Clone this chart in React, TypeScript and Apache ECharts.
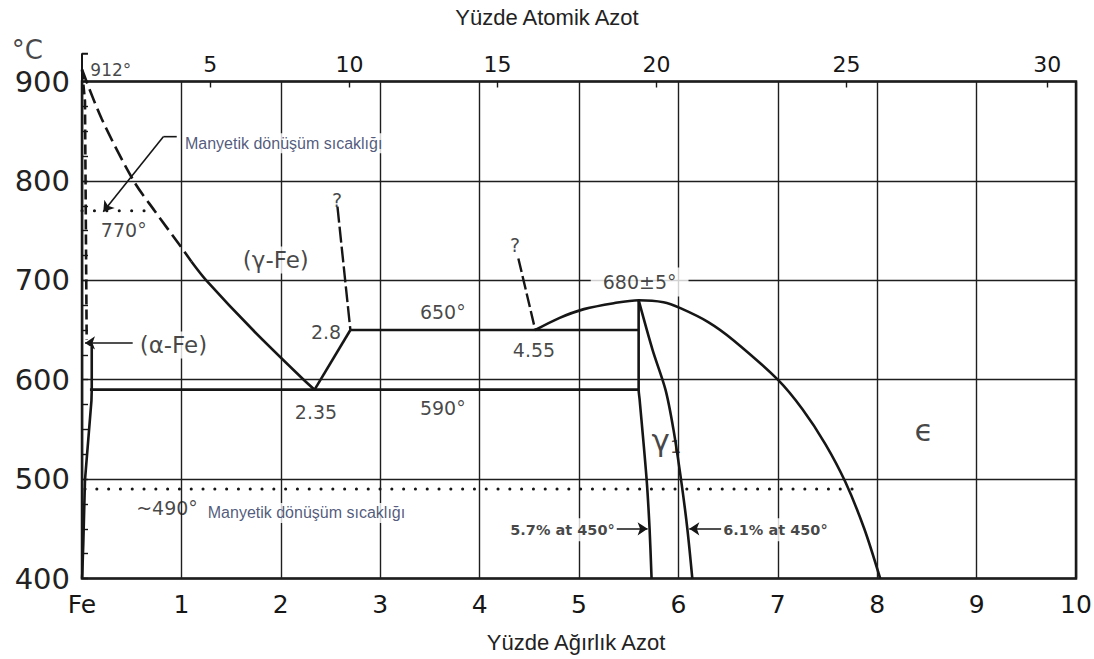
import React, { useEffect, useRef } from 'react';
import * as echarts from 'echarts';

// ---- axes ----
const xTickLabels = ['Fe', '1', '2', '3', '4', '5', '6', '7', '8', '9', '10'];
const topTickWt = [1.29, 2.69, 4.18, 5.78, 7.69, 9.71];
const topTickLabels = ['5', '10', '15', '20', '25', '30'];

// ---- phase boundaries (wt% N, °C) ----
const gammaDashed = [[0, 912], [0.2, 862], [0.52, 800], [0.73, 770], [1.0, 733], [1.1, 719]];
const gammaSolid = [[1.1, 719], [1.25, 700], [1.72, 650], [2.23, 600], [2.34, 590]];
const eutectoidRise = [[2.34, 590], [2.7, 650]];
const line650 = [[2.7, 650], [5.6, 650]];
const line590 = [[0.08, 590], [5.6, 590]];
const question1 = [[2.57, 774], [2.7, 650]];
const question2 = [[4.39, 722], [4.56, 650]];
const alphaDashed = [[0, 912], [0.03, 880], [0.047, 640]];
const alphaSolid = [[0.098, 633], [0.098, 590], [0.095, 579], [0.03, 499], [0.013, 435], [0.003, 405], [0, 400]];
const gammaPrimeLeft = [[5.6, 680], [5.6, 590], [5.61, 580], [5.68, 500], [5.71, 450], [5.73, 400]];
const gammaPrimeRight = [[5.6, 680], [5.74, 630], [5.87, 590], [5.95, 550], [6.03, 497], [6.09, 450], [6.14, 400]];
const epsilonBoundary = [[4.56, 650], [4.8, 662], [5.05, 671], [5.35, 677], [5.6, 680], [5.85, 678], [6.02, 672], [6.3, 658], [6.55, 640], [7.0, 600], [7.25, 570], [7.48, 535], [7.68, 497], [7.87, 450], [8.03, 400]];
const magnetic770 = [[0, 770], [0.66, 770]];
const magnetic490 = [[0.03, 490], [7.75, 490]];
const axisExtension = [[0, 900], [0, 928], [0.06, 928]];

// ---- pointers ----
const pointerMagneticTail = [[0.953, 844.5], [0.818, 844.5]];
const pointerMagneticHead = [[0.818, 844.5], [0.214, 769]];
const pointerAlpha = [[0.51, 637], [0.03, 637]];
const pointer57 = [[5.38, 450], [5.69, 450]];
const pointer61 = [[6.43, 450], [6.11, 450]];

// ---- annotations: [text, wt%, °C, style] ----
const annotations: [string, number, number, string][] = [
  ['°C', -0.55, 932, 'unit'],
  ['912°', 0.29, 911.6, 'small'],
  ['770°', 0.42, 750.6, 'num'],
  ['(γ-Fe)', 1.95, 720.4, 'phase'],
  ['(α-Fe)', 0.92, 635, 'phase'],
  ['2.8', 2.455, 648, 'num'],
  ['2.35', 2.354, 567.5, 'num'],
  ['650°', 3.63, 668, 'num'],
  ['590°', 3.63, 571.5, 'num'],
  ['4.55', 4.547, 630, 'num'],
  ['680±5°', 5.61, 698.3, 'numbg'],
  ['?', 2.565, 780.8, 'num'],
  ['?', 4.356, 735.5, 'num'],
  ['{g|γ}{s|1}', 5.88, 539, 'gamma1'],
  ['ϵ', 8.47, 549, 'greek'],
  ['~490°', 0.855, 471, 'num'],
  ['Manyetik dönüşüm sıcaklığı', 1.016, 838, 'note'],
  ['Manyetik dönüşüm sıcaklığı', 1.245, 466, 'note'],
  ['5.7% at 450°', 5.37, 449, 'boldL'],
  ['6.1% at 450°', 6.44, 449, 'boldR'],
];

const INK = '#161616';
const FONT = 'DejaVu Sans';

const labelStyles: Record<string, any> = {
  unit: { fontSize: 26, fontFamily: FONT, color: INK },
  small: { fontSize: 17, fontFamily: FONT, color: INK },
  num: { fontSize: 19, fontFamily: FONT, color: INK },
  numbg: { fontSize: 19, fontFamily: FONT, color: INK, backgroundColor: '#fff', padding: [5, 12] },
  phase: { fontSize: 23, fontFamily: FONT, color: INK, backgroundColor: '#fff', padding: [2, 2] },
  greek: { fontSize: 31, fontFamily: FONT, color: INK },
  gamma1: {
    fontFamily: FONT, color: INK,
    rich: {
      g: { fontSize: 31, fontFamily: FONT, color: INK, verticalAlign: 'bottom' },
      s: { fontSize: 18, fontFamily: FONT, color: INK, verticalAlign: 'bottom' },
    },
  },
  note: { fontSize: 16, fontFamily: 'Liberation Sans', color: '#26305a', backgroundColor: '#fff', padding: [2, 2], position: 'right', distance: 0 },
  boldL: { fontSize: 14.5, fontFamily: FONT, fontWeight: 'bold', color: INK, backgroundColor: '#fff', padding: [4, 1], position: 'left', distance: 0 },
  boldR: { fontSize: 14.5, fontFamily: FONT, fontWeight: 'bold', color: INK, backgroundColor: '#fff', padding: [4, 1], position: 'right', distance: 0 },
};

function line(data: number[][], type: any, width: number, extra: any = {}, smooth: any = false) {
  return {
    type: 'line',
    data,
    symbol: 'none',
    showSymbol: false,
    clip: false,
    silent: true,
    smooth,
    z: 3,
    lineStyle: { color: INK, width, type, ...extra },
  };
}

function arrow(coords: number[][]) {
  return {
    type: 'lines',
    coordinateSystem: 'cartesian2d',
    polyline: false,
    silent: true,
    z: 4,
    symbol: ['none', 'arrow'],
    symbolSize: 10,
    lineStyle: { color: INK, width: 1.6, opacity: 1, curveness: 0 },
    data: [{ coords }],
  };
}

export default function App() {
  const ref = useRef<HTMLDivElement>(null);
  useEffect(() => {
    if (!ref.current) return;
    const chart = echarts.init(ref.current, null, { renderer: 'svg' });
    const dotted = { cap: 'round' };
    chart.setOption({
      animation: false,
      backgroundColor: '#fff',
      grid: {
        show: true, left: 82, right: 18, top: 81.5, bottom: 80.5,
        containLabel: false, outerBoundsMode: 'none',
        borderColor: INK, borderWidth: 2.5, backgroundColor: 'transparent',
      },
      xAxis: [
        {
          type: 'value', min: 0, max: 10, interval: 1, position: 'bottom',
          axisLine: { show: false }, axisTick: { show: false },
          splitLine: { show: true, lineStyle: { color: '#1e1e1e', width: 1.4 } },
          axisLabel: { fontFamily: FONT, fontSize: 25, color: INK, margin: 13, formatter: (v: number) => xTickLabels[Math.round(v)] },
          name: 'Yüzde Ağırlık Azot', nameLocation: 'middle', nameGap: 53,
          nameTextStyle: { fontFamily: 'Liberation Sans', fontSize: 22, color: '#222', padding: [0, 6, 0, 0] },
        },
        {
          type: 'value', min: 0, max: 10, position: 'top',
          axisLine: { show: false },
          splitLine: { show: false },
          axisTick: { show: true, inside: true, length: 6, lineStyle: { color: INK, width: 1.4 }, customValues: topTickWt },
          axisLabel: {
            fontFamily: FONT, fontSize: 22, color: INK, margin: 6, customValues: topTickWt,
            formatter: (v: number) => {
              const i = topTickWt.findIndex((t) => Math.abs(t - v) < 1e-6);
              return i >= 0 ? topTickLabels[i] : '';
            },
          },
          name: 'Yüzde Atomik Azot', nameLocation: 'middle', nameGap: 53,
          nameTextStyle: { fontFamily: 'Liberation Sans', fontSize: 22, color: '#222', padding: [0, 64, 0, 0] },
        },
      ],
      yAxis: {
        type: 'value', min: 400, max: 900, interval: 100,
        axisLine: { show: false },
        axisTick: { show: true, inside: true, length: 6, lineStyle: { color: INK, width: 1.4 } },
        minorTick: { show: true, splitNumber: 4, length: 6, lineStyle: { color: INK, width: 1.4 } },
        splitLine: { show: true, lineStyle: { color: '#1e1e1e', width: 1.4 } },
        axisLabel: { fontFamily: FONT, fontSize: 29, color: '#222', margin: 12 },
      },
      series: [
        line(axisExtension, 'solid', 2),
        line(gammaDashed, [15, 6], 2.6, {}, 0.3),
        line(gammaSolid, 'solid', 2.6, {}, 0.3),
        line(eutectoidRise, 'solid', 2.6),
        line(line650, 'solid', 2.6),
        line(line590, 'solid', 2.8),
        line(question1, [16, 4], 2.4),
        line(question2, [14, 4], 2.4),
        line(alphaDashed, [10, 5], 2.6),
        line(alphaSolid, 'solid', 2.6),
        line(gammaPrimeLeft, 'solid', 2.6, {}, 0.3),
        line(gammaPrimeRight, 'solid', 2.6, {}, 0.3),
        line(epsilonBoundary, 'solid', 2.6, {}, 0.3),
        line(magnetic770, [0.1, 12.3], 3, dotted),
        line(magnetic490, [0.1, 11.7], 3, dotted),
        line(pointerMagneticTail, 'solid', 1.6),
        arrow(pointerMagneticHead),
        arrow(pointerAlpha),
        arrow(pointer57),
        arrow(pointer61),
        {
          type: 'scatter',
          symbolSize: 0,
          clip: false,
          silent: true,
          z: 10,
          data: annotations.map(([text, x, y, style]) => {
            const s = labelStyles[style];
            return {
              value: [x, y],
              label: {
                show: true,
                position: s.position || 'inside',
                distance: s.distance ?? 0,
                formatter: () => text,
                ...s,
              },
            };
          }),
        },
      ],
    });
    return () => chart.dispose();
  }, []);
  return <div ref={ref} style={{ position: 'absolute', left: 0, top: 0, width: 1094, height: 659, background: '#fff' }} />;
}
